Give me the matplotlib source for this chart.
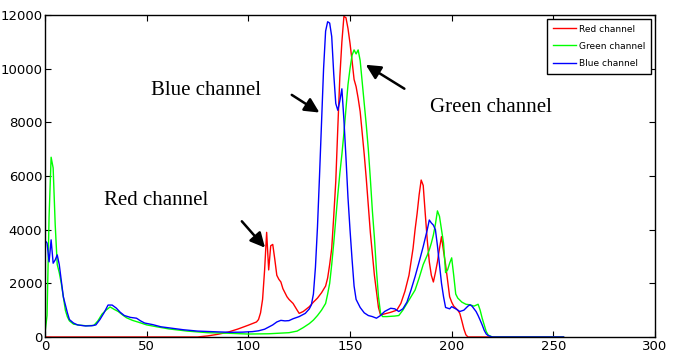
import matplotlib
matplotlib.use('Agg')
import matplotlib.pyplot as plt

# histogram values (bin -> count)
red_x = [0, 75, 80, 85, 90, 95, 100, 104, 105, 106, 107, 108, 109, 110, 111, 112, 113, 114, 115, 116,
         117, 118, 119, 120, 122, 124, 125, 127, 130, 132, 134, 136, 138, 139, 140, 141, 142, 143, 144,
         145, 146, 147, 148, 149, 150, 151, 152, 153, 154, 155, 156, 157, 158, 159, 160, 161, 162, 163,
         164, 165, 167, 170, 173, 175, 177, 179, 181, 182, 183, 184, 185, 186, 187, 188, 189, 190, 191,
         192, 193, 194, 195, 196, 197, 198, 199, 200, 201, 203, 204, 205, 206, 207, 208, 255]
red_y = [0, 0, 40, 100, 180, 300, 440, 560, 650, 900, 1400, 2500, 3900, 2500, 3400, 3450, 2900, 2300,
         2150, 2050, 1800, 1650, 1500, 1400, 1250, 1000, 880, 950, 1130, 1300, 1450, 1650, 1900, 2200,
         2700, 3300, 4500, 5800, 7800, 9700, 11000, 11950, 11900, 11500, 10950, 10300, 9600, 9330, 8900,
         8400, 7600, 6800, 5900, 4900, 3900, 3100, 2300, 1700, 1100, 820, 860, 920, 1000, 1250, 1700,
         2300, 3300, 4000, 4600, 5300, 5850, 5650, 4600, 3600, 2800, 2300, 2050, 2400, 2800, 3300, 3740,
         3200, 2700, 2100, 1500, 1300, 1150, 1000, 880, 600, 300, 80, 0, 0]

green_x = [0, 1, 2, 3, 4, 5, 6, 7, 8, 9, 10, 11, 12, 14, 17, 20, 24, 26, 28, 30, 32, 34, 36, 38, 40,
           43, 46, 50, 55, 61, 70, 80, 90, 100, 110, 115, 120, 124, 127, 130, 132, 134, 136, 138, 139,
           140, 141, 142, 143, 144, 145, 146, 147, 148, 149, 150, 151, 152, 153, 154, 155, 156, 157,
           158, 159, 160, 161, 162, 163, 164, 165, 166, 168, 170, 172, 174, 176, 178, 180, 182, 184,
           186, 188, 189, 190, 191, 192, 193, 194, 195, 196, 197, 198, 199, 200, 201, 202, 203, 205,
           207, 209, 211, 213, 214, 215, 216, 217, 218, 220, 255]
green_y = [150, 800, 4500, 6700, 6300, 4200, 2700, 2400, 2000, 1500, 1000, 750, 600, 480, 440, 420,
           430, 600, 850, 1000, 1120, 1030, 950, 830, 720, 620, 550, 450, 380, 300, 220, 160, 140, 110,
           120, 140, 160, 220, 350, 500, 630, 800, 1000, 1250, 1600, 2000, 2700, 3500, 4400, 5300, 6100,
           6800, 7600, 8500, 9400, 10000, 10500, 10700, 10550, 10700, 10300, 9500, 8700, 7900, 7000,
           5900, 4700, 3700, 2500, 1500, 900, 760, 760, 770, 780, 800, 1000, 1250, 1500, 1750, 2200,
           2700, 3050, 3250, 3500, 3800, 4200, 4700, 4500, 4000, 3500, 2400, 2500, 2750, 2950, 2300,
           1600, 1450, 1300, 1220, 1200, 1150, 1220, 1000, 700, 450, 200, 70, 0, 0]

blue_x = [0, 1, 2, 3, 4, 5, 6, 7, 8, 9, 10, 11, 12, 14, 16, 20, 23, 25, 27, 29, 31, 33, 35, 37, 39,
          42, 45, 47, 49, 53, 57, 62, 68, 75, 85, 91, 97, 102, 105, 108, 110, 112, 114, 116, 118, 120,
          122, 125, 128, 130, 131, 132, 133, 134, 135, 136, 137, 138, 139, 140, 141, 142, 143, 144,
          145, 146, 147, 148, 149, 150, 151, 152, 153, 155, 157, 159, 161, 163, 165, 167, 170, 172,
          174, 176, 178, 180, 182, 184, 186, 188, 189, 190, 191, 192, 193, 194, 195, 196, 197, 199,
          200, 202, 204, 206, 208, 209, 210, 212, 213, 214, 215, 216, 217, 218, 220, 255]
blue_y = [3600, 3500, 2800, 3620, 2750, 2870, 3060, 2700, 2100, 1500, 1200, 900, 650, 520, 450, 410,
          420, 450, 650, 900, 1190, 1190, 1080, 920, 800, 730, 700, 600, 520, 460, 380, 330, 270, 220,
          190, 175, 180, 200, 230, 290, 370, 450, 560, 620, 600, 610, 680, 760, 880, 1050, 1200, 1600,
          2600, 4100, 6000, 8000, 10000, 11400, 11750, 11700, 11200, 9800, 8700, 8450, 8800, 9250,
          8100, 6700, 5200, 4000, 2900, 1900, 1400, 1100, 900, 800, 760, 700, 800, 950, 1070, 1050,
          950, 1050, 1300, 1750, 2250, 2800, 3370, 4000, 4360, 4250, 4170, 4000, 3400, 2700, 2000,
          1500, 1100, 1050, 1130, 1050, 950, 1000, 1150, 1200, 1150, 950, 800, 630, 450, 250, 110, 50,
          0, 0]

x_ticks = [0, 50, 100, 150, 200, 250, 300]
y_ticks = [0, 2000, 4000, 6000, 8000, 10000, 12000]

tick_font = ['Liberation Sans Narrow', 'DejaVu Sans']
note_font = ['Liberation Serif', 'DejaVu Serif']

fig = plt.figure(figsize=(6.77, 3.58), dpi=100)
ax = fig.add_axes([0.0665, 0.0587, 0.901, 0.8993])

ax.plot(red_x, red_y, color='red', lw=1.0, label='Red channel')
ax.plot(green_x, green_y, color='#00ff00', lw=1.0, label='Green channel')
ax.plot(blue_x, blue_y, color='blue', lw=1.0, label='Blue channel')

ax.set_xlim(0, 300)
ax.set_ylim(0, 12000)
ax.set_xticks(x_ticks)
ax.set_yticks(y_ticks)
ax.tick_params(direction='in', top=True, right=True, length=4, width=0.8, pad=2)
for lab in ax.get_xticklabels() + ax.get_yticklabels():
    lab.set_family(tick_font)
    lab.set_fontsize(9.5)
for s in ax.spines.values():
    s.set_linewidth(1.0)

leg = ax.legend(loc='upper right', prop={'family': tick_font, 'size': 6.5},
                fancybox=False, edgecolor='black', framealpha=1,
                handlelength=2.5, handletextpad=0.4, borderpad=0.65,
                labelspacing=0.9, borderaxespad=0.4)
leg.get_frame().set_linewidth(1.0)

arrow = dict(arrowstyle='-|>', color='black', lw=1.8, mutation_scale=22)
ax.text(29, 5100, 'Red channel', family=note_font, fontsize=15, va='center')
ax.text(52, 9200, 'Blue channel', family=note_font, fontsize=15, va='center')
ax.text(189.5, 8550, 'Green channel', family=note_font, fontsize=15, va='center')
ax.annotate('', xy=(109.1, 3250), xytext=(95.9, 4390), arrowprops=arrow)
ax.annotate('', xy=(136.1, 8310), xytext=(120.2, 9080), arrowprops=arrow)
ax.annotate('', xy=(156.6, 10200), xytext=(177.9, 9200), arrowprops=arrow)

fig.savefig('out.png', dpi=100)
